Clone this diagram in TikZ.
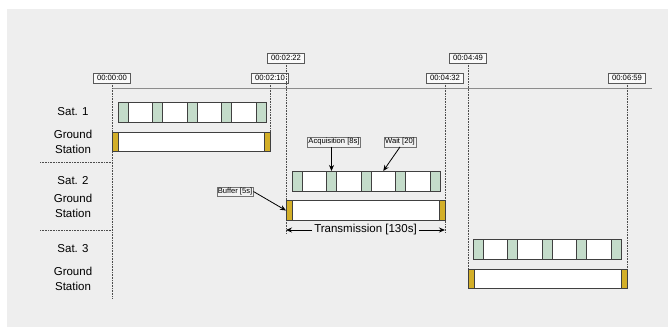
\documentclass[tikz,border=0pt]{standalone}
\usepackage{fontspec}
\setmainfont{Liberation Sans}
\usetikzlibrary{arrows.meta}
\definecolor{acq}{HTML}{C4DCCA}
\definecolor{buf}{HTML}{D3AF28}
\definecolor{bg}{HTML}{EEEEEE}

\begin{document}
\begin{tikzpicture}[x=1pt, y=-1pt,
  tbox/.style={draw=black!65, fill=black!2, font=\fontsize{7.7}{8}\selectfont, inner xsep=3.5pt, inner ysep=1pt, minimum height=10pt},
  note/.style={draw=black!55, fill=black!5, font=\fontsize{7.6}{8}\selectfont, inner sep=1pt, minimum height=9.5pt},
  row/.style={font=\fontsize{11.5}{15}\selectfont, align=center},
  seg/.style={draw=black!75, line width=0.9pt, minimum height=20pt, inner sep=0pt, outer sep=0pt},
  acqb/.style={seg, fill=acq, minimum width=10pt},
  waitb/.style={seg, fill=white, minimum width=24.5pt},
  gsb/.style={seg, fill=white, minimum height=19.5pt},
  bufb/.style={seg, fill=buf, minimum width=6pt, minimum height=19.5pt},
  vline/.style={densely dotted, black!70, line width=0.6pt},
  arr/.style={-{Stealth[length=6pt, width=5pt]}, line width=0.8pt}]
% canvas
\useasboundingbox (0,0) rectangle (668,327);
\fill[bg] (7,9) rectangle (668,327);
% time stamps
\node[tbox] (t0) at (112,78) {00:00:00};
\node[tbox] (t1) at (270,78) {00:02:10};
\node[tbox] (t2) at (286,58) {00:02:22};
\node[tbox] (t3) at (445,78) {00:04:32};
\node[tbox] (t4) at (468,58) {00:04:49};
\node[tbox] (t5) at (627,78) {00:06:59};
\coordinate (ax0) at (112,88);
\coordinate (ax1) at (652,88);
\draw[black!45, line width=1pt] (ax0) -- (ax1);
% ground station bars
\node[gsb, minimum width=158pt] (g1) at (191,142) {};
\node[gsb, minimum width=159pt] (g2) at (365.5,210.5) {};
\node[gsb, minimum width=159pt] (g3) at (547.5,279) {};
% guide lines
\coordinate (e0) at (112,298);
\coordinate (e2) at (286,233);
\coordinate (e3) at (445,233);
\draw[vline] (t0.south) -- (e0);
\draw[vline] (t1.south) -- (g1.south east);
\draw[vline] (t2.south) -- (e2);
\draw[vline] (t3.south) -- (e3);
\draw[vline] (t4.south) -- (g3.south west);
\draw[vline] (t5.south) -- (g3.south east);
\coordinate (d1a) at (40,162); \coordinate (d1b) at (112,162);
\coordinate (d2a) at (40,230); \coordinate (d2b) at (112,230);
\draw[vline] (d1a) -- (d1b);
\draw[vline] (d2a) -- (d2b);
% buffers
\node[bufb] (g1b0) at (115,142) {}; \node[bufb] (g1b1) at (267,142) {};
\node[bufb] (g2b0) at (289,210.5) {}; \node[bufb] (g2b1) at (442,210.5) {};
\node[bufb] (g3b0) at (471,279) {}; \node[bufb] (g3b1) at (624,279) {};
% satellite passes
\foreach \i in {0,...,3} \node[waitb] (s1w\i) at ({140.25+34.5*\i},112) {};
\foreach \i in {0,...,4} \node[acqb] (s1a\i) at ({123+34.5*\i},112) {};
\foreach \i in {0,...,3} \node[waitb] (s2w\i) at ({314.25+34.5*\i},181) {};
\foreach \i in {0,...,4} \node[acqb] (s2a\i) at ({297+34.5*\i},181) {};
\foreach \i in {0,...,3} \node[waitb] (s3w\i) at ({495.25+34.5*\i},249) {};
\foreach \i in {0,...,4} \node[acqb] (s3a\i) at ({478+34.5*\i},249) {};
% row labels
\node[row] (r1s) at (73,112) {Sat. 1};
\node[row] (r1g) at (73,141.5) {Ground\\Station};
\node[row] (r2s) at (73,181) {Sat. 2};
\node[row] (r2g) at (73,205.5) {Ground\\Station};
\node[row] (r3s) at (73,249) {Sat. 3};
\node[row] (r3g) at (73,279) {Ground\\Station};
% annotations
\node[note] (nacq) at (334,142) {Acquisition [8s]};
\node[note] (nwait) at (400,142) {Wait [20]};
\node[note] (nbuf) at (235,191.5) {Buffer [5s]};
\draw[arr] (nacq.south -| s2a1.north) -- (s2a1.north);
\draw[arr] (nwait.south) -- (s2w2.north);
\draw[arr] (nbuf.east) -- (g2b0.west);
% transmission span
\node[row, fill=bg, inner sep=2pt] (tx) at (365.5,230) {Transmission [130s]};
\coordinate (tl) at (286,230); \coordinate (tr) at (445,230);
\draw[arr] (tx.west) -- (tl);
\draw[arr] (tx.east) -- (tr);
\end{tikzpicture}
\end{document}
